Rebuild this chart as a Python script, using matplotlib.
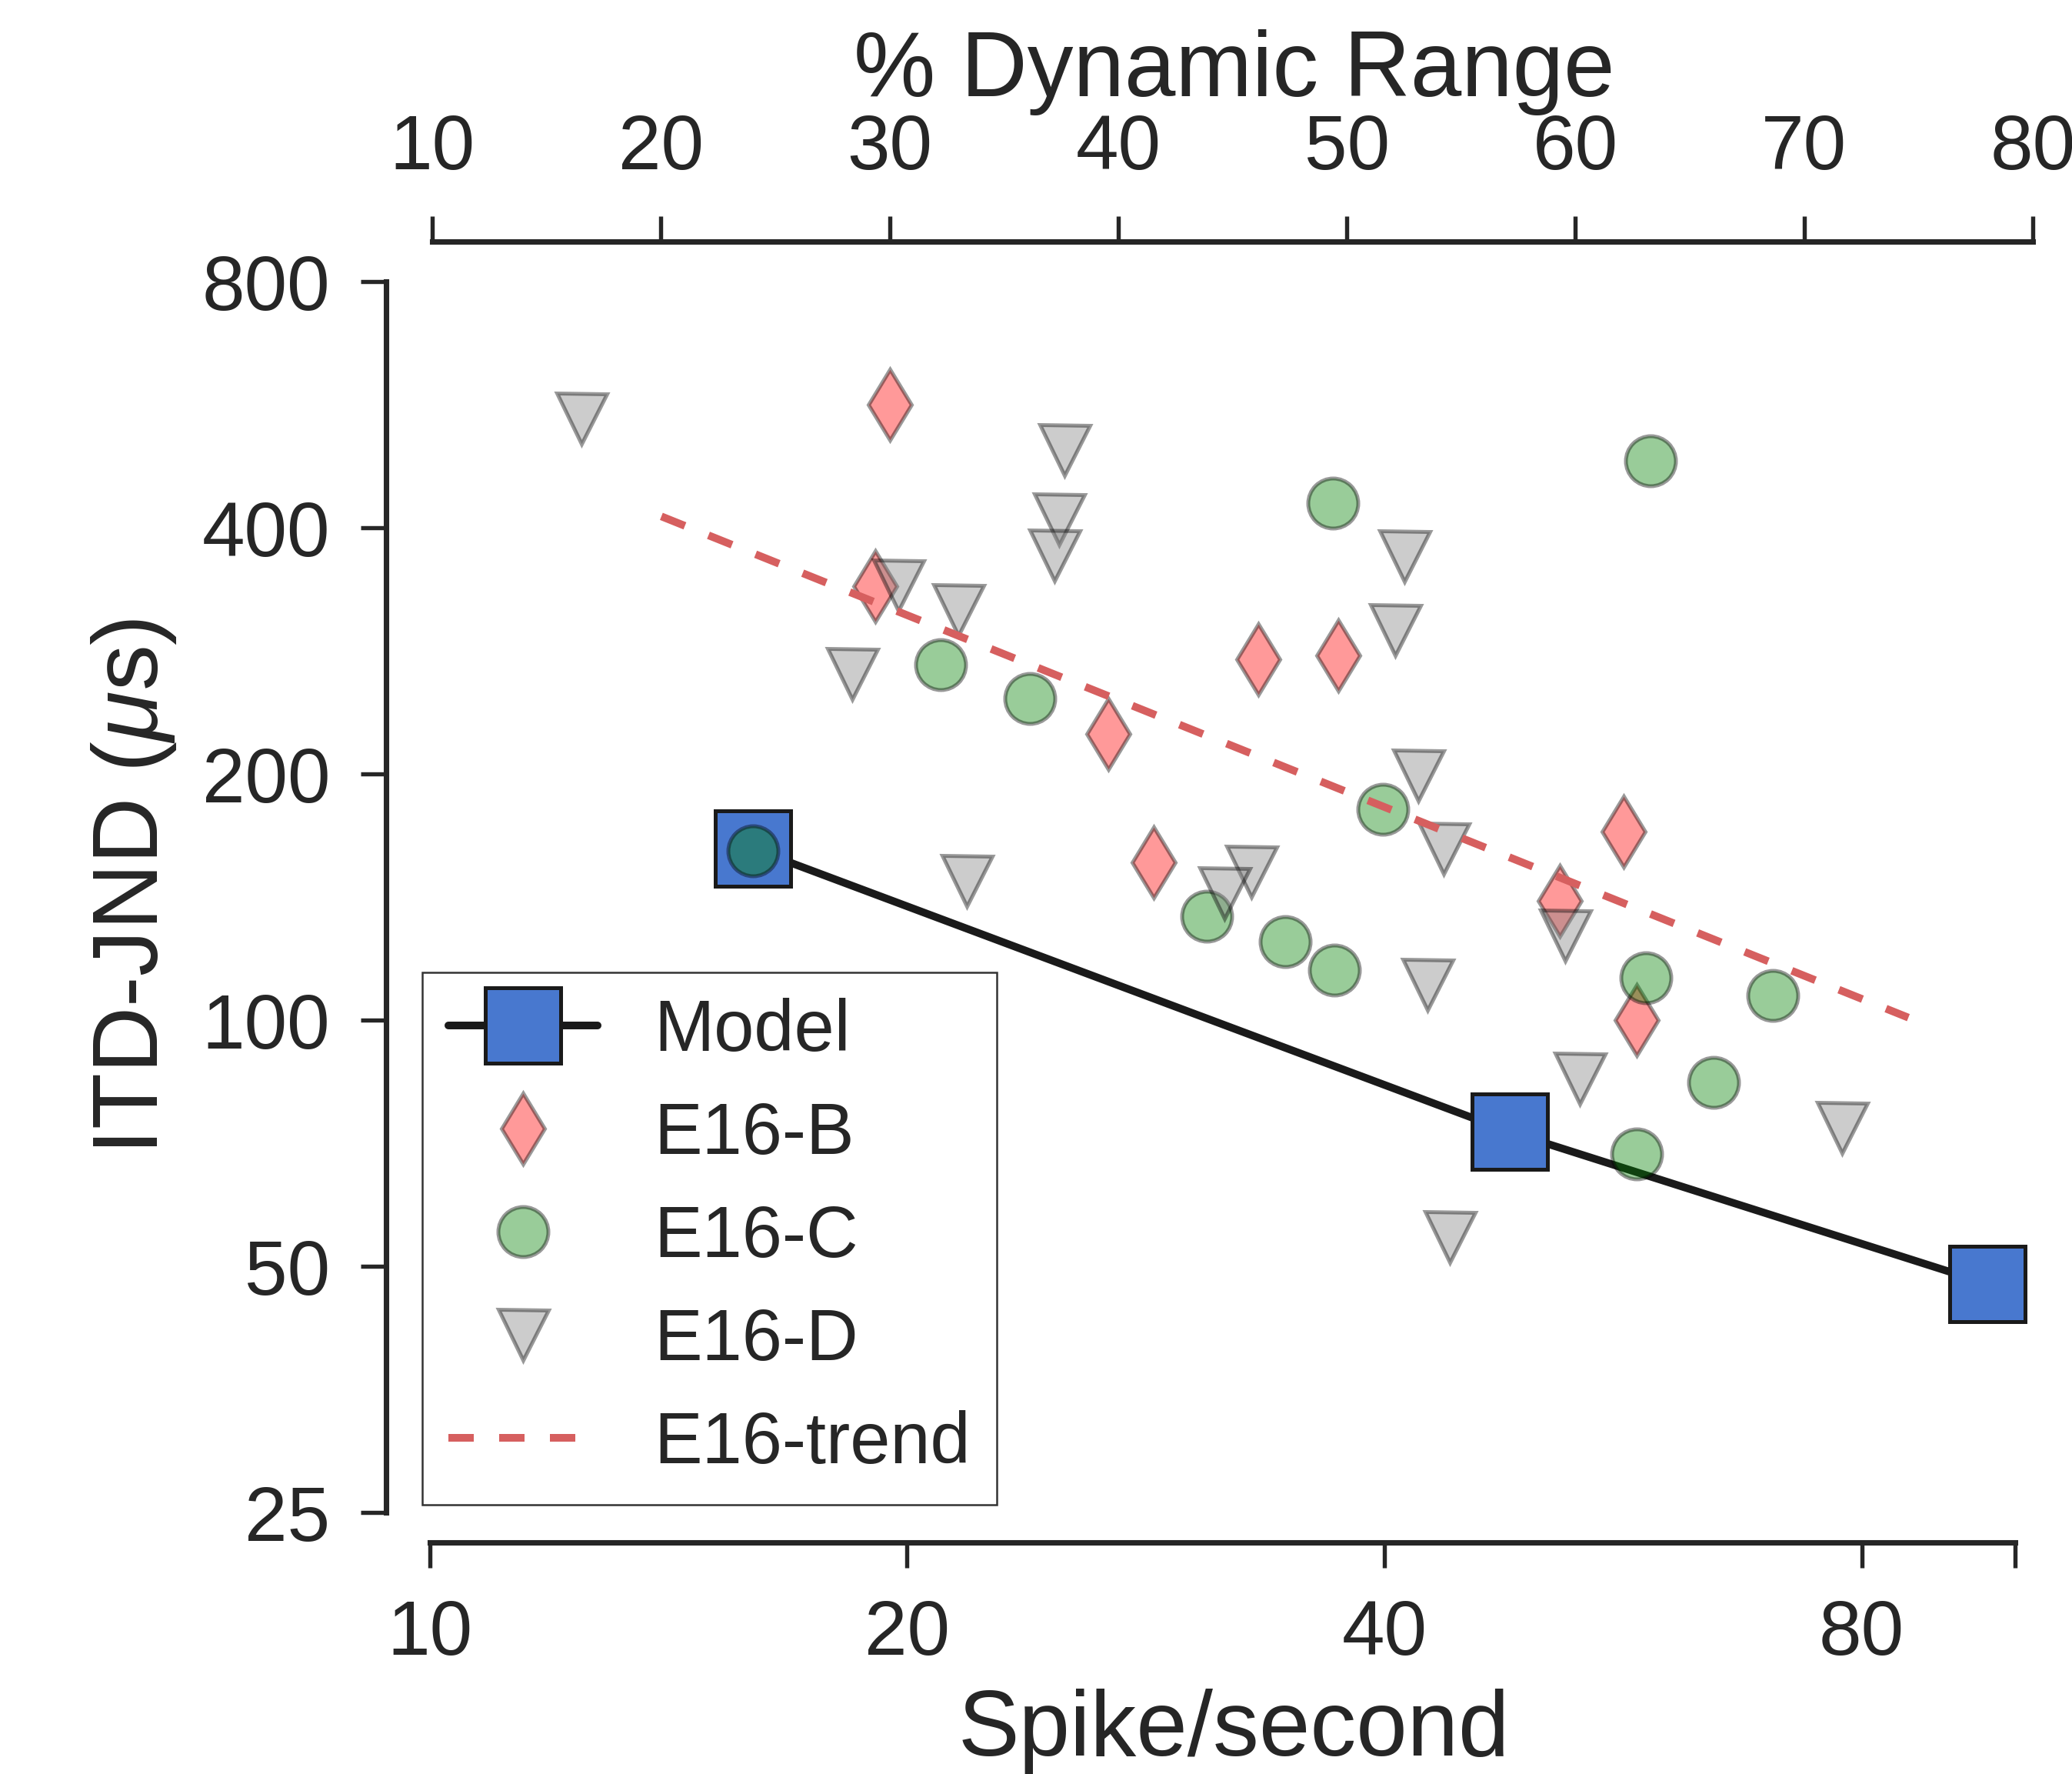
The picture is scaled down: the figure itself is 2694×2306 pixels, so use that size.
import matplotlib
matplotlib.use('Agg')
import matplotlib.pyplot as plt
from matplotlib.ticker import NullLocator

# Datos (spikes/s vs ITD-JND en microsegundos)
model_rate = [16.0, 48.0, 96.0]
model_jnd = [162, 73, 47.6]

b_rate = [19.5, 19.1, 33.3, 37.4, 26.8, 28.6, 56.6, 51.6, 57.7]
b_jnd = [566, 339, 276, 279, 224, 156, 170, 140, 100]

c_rate = [16.0, 58.9, 37.1, 21.0, 23.9, 39.9, 30.9, 34.65, 37.2, 58.5, 70.3, 64.5, 57.7]
c_jnd = [161, 483, 429, 272, 247.5, 181, 134, 124.6, 115.2, 112.7, 107.1, 83.9, 68.6]

d_rate = [12.46, 25.14, 24.93, 24.77, 19.75, 21.54, 18.47, 21.82, 41.17, 40.61,
          42.0, 43.6, 32.96, 31.7, 52.0, 42.6, 53.1, 77.7, 44.0]
d_jnd = [544, 498, 410, 370, 340, 317, 265, 148, 369, 300,
         199, 162, 152, 143, 127, 110.5, 84.8, 73.8, 54.3]

trend_rate = [14.0, 85.6]
trend_jnd = [413, 100.7]

x_ticks = [10, 20, 40, 80, 100]
x_ticklabels = ['10', '20', '40', '80', '']
y_ticks = [25, 50, 100, 200, 400, 800]
top_ticks = [10, 20, 30, 40, 50, 60, 70, 80]

W, H, DPI = 2695, 2306, 300
TXT = '#262626'

plt.rcParams['font.family'] = ['Liberation Sans', 'DejaVu Sans']
plt.rcParams['mathtext.fontset'] = 'custom'
plt.rcParams['mathtext.rm'] = 'Liberation Sans'
plt.rcParams['mathtext.it'] = 'Liberation Sans:italic'
plt.rcParams['text.color'] = TXT
plt.rcParams['axes.labelcolor'] = TXT

fig = plt.figure(figsize=(W / DPI, H / DPI), dpi=DPI)
ax = fig.add_axes([558.6 / W, (H - 1966) / H, (2650.4 - 558.6) / W, 1600 / H])

ax.plot(model_rate, model_jnd, '-s', color='#1a1a1a', lw=2.4, ms=23.3,
        mfc='#4878CF', mec='#1a1a1a', mew=1.2, solid_capstyle='round', label='Model')
ax.plot(b_rate, b_jnd, 'd', ls='none', ms=15.6, mfc='red', mec='k', mew=1.2,
        alpha=0.4, label='E16-B')
ax.plot(c_rate, c_jnd, 'o', ls='none', ms=15.6, mfc='green', mec='k', mew=1.2,
        alpha=0.4, label='E16-C')
ax.plot(d_rate, d_jnd, 'v', ls='none', ms=15.6, mfc='gray', mec='k', mew=1.2,
        alpha=0.4, label='E16-D')
ax.plot(trend_rate, trend_jnd, ls=(0, (3.3, 3.3)), color='#D65F5F', lw=2.4,
        label='E16-trend')

ax.set_xscale('log')
ax.set_yscale('log')
ax.set_xlim(10, 103.4)
ax.set_ylim(25, 800)
ax.set_xticks(x_ticks)
ax.set_xticklabels(x_ticklabels)
ax.set_yticks(y_ticks)
ax.set_yticklabels([str(v) for v in y_ticks])
ax.xaxis.set_minor_locator(NullLocator())
ax.yaxis.set_minor_locator(NullLocator())
ax.tick_params(which='major', length=8, width=1.3, pad=9.5, labelsize=24,
               color=TXT, labelcolor=TXT, direction='out')

for s in ['top', 'right']:
    ax.spines[s].set_visible(False)
ax.spines['left'].set_position(('outward', 13.6))
ax.spines['bottom'].set_position(('outward', 9.4))
ax.spines['left'].set_bounds(25, 800)
ax.spines['bottom'].set_bounds(10, 100)
for s in ['left', 'bottom']:
    ax.spines[s].set_linewidth(1.7)
    ax.spines[s].set_color(TXT)

ax.set_xlabel('Spike/second', fontsize=28.7)
ax.xaxis.set_label_coords(0.5, (1966 - 2195) / 1600)
ax.set_ylabel('ITD-JND ($\\mu$s)', fontsize=28.7)
ax.yaxis.set_label_coords((232 - 558.6) / 2091.8, (1966 - 1152) / 1600)

# eje superior: rango dinámico
ax2 = ax.twiny()
ax2.set_xlim(9.886, 80.25)
ax2.set_xticks(top_ticks)
ax2.xaxis.set_minor_locator(NullLocator())
ax2.tick_params(which='major', length=8, width=1.3, pad=9.5, labelsize=24,
                color=TXT, labelcolor=TXT, direction='out')
for s in ['bottom', 'left', 'right']:
    ax2.spines[s].set_visible(False)
ax2.spines['top'].set_position(('outward', 12.5))
ax2.spines['top'].set_bounds(10, 80)
ax2.spines['top'].set_linewidth(1.7)
ax2.spines['top'].set_color(TXT)
ax2.set_xlabel('% Dynamic Range', fontsize=28.7)
ax2.xaxis.set_label_coords(0.5, (1966 - 125) / 1600)

leg = ax.legend(loc='lower left', bbox_to_anchor=(549.5 / W, (H - 1956) / H),
                bbox_transform=fig.transFigure, borderaxespad=0, fontsize=22.5,
                handlelength=2.07, handletextpad=0.78, borderpad=0.36,
                labelspacing=0.48, numpoints=1, frameon=True, fancybox=False,
                framealpha=1, edgecolor='#333333')
leg.get_frame().set_linewidth(0.6)

fig.savefig('out.png', dpi=DPI)
